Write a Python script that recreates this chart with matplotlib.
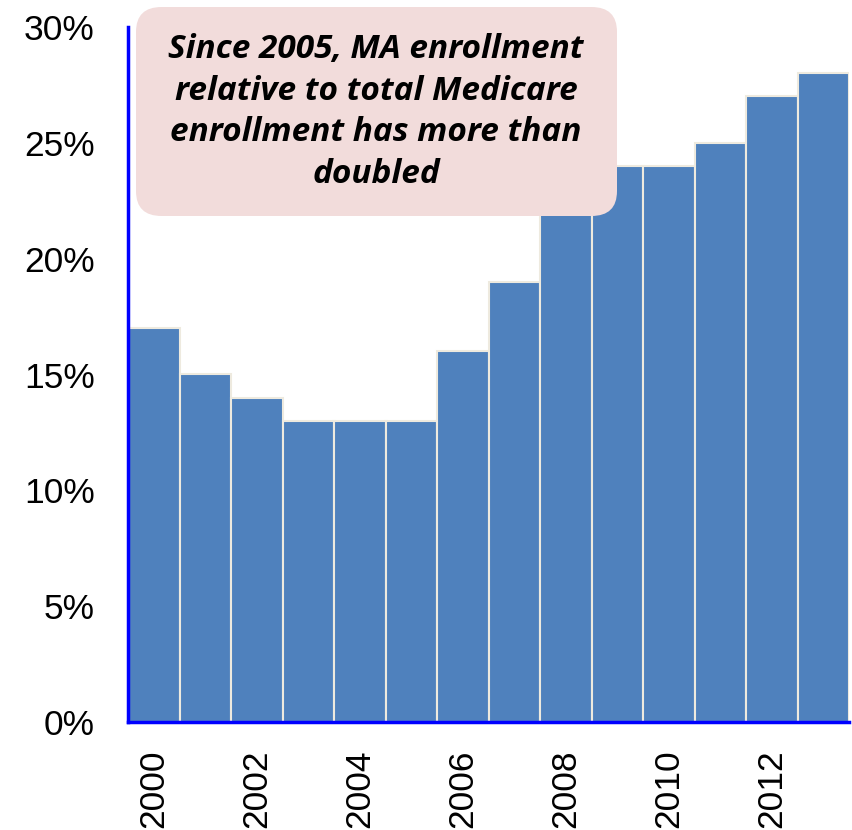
import matplotlib
matplotlib.use('Agg')
import matplotlib.pyplot as plt
from matplotlib.patches import FancyBboxPatch

years = list(range(2000, 2014))
share = [17, 15, 14, 13, 13, 13, 16, 19, 22, 24, 24, 25, 27, 28]
yticks = [0, 5, 10, 15, 20, 25, 30]
note = 'Since 2005, MA enrollment\nrelative to total Medicare\nenrollment has more than\ndoubled'

plt.rcParams['font.family'] = ['Liberation Sans', 'DejaVu Sans']

fig = plt.figure(figsize=(8.52, 8.30), dpi=100)
ax = fig.add_axes([128 / 852, 108 / 830, 721 / 852, 695 / 830])

ax.bar(years, share, width=1.0, color='#4F81BD', edgecolor='#EEEADF', linewidth=1.5)
ax.set_xlim(years[0] - 0.5, years[-1] + 0.5)
ax.set_ylim(0, 30)
ax.set_yticks(yticks)
ax.set_yticklabels([f'{v}%' for v in yticks], fontsize=25.5)
ax.set_xticks(years[::2])
ax.set_xticklabels([str(y) for y in years[::2]], rotation=90, fontsize=25.5, va='top')
ax.tick_params(length=0)
ax.tick_params(axis='y', pad=24)
ax.tick_params(axis='x', pad=20)

for s in ['top', 'right']:
    ax.spines[s].set_visible(False)
for s in ['left', 'bottom']:
    ax.spines[s].set_color('#0000FF')
    ax.spines[s].set_linewidth(2.5)

# annotation box
box = FancyBboxPatch((136 / 852 + 0.02, (830 - 216) / 830 + 0.02), (617 - 136) / 852 - 0.04, (216 - 7) / 830 - 0.04,
                     boxstyle='round,pad=0.02,rounding_size=0.03', transform=fig.transFigure,
                     facecolor='#F2DCDB', edgecolor='none', zorder=5)
fig.patches.append(box)
fig.text(376 / 852, (830 - 112) / 830, note, ha='center', va='center', fontsize=24,
         fontweight='bold', fontstyle='italic', family=['Open Sans', 'DejaVu Sans'],
         linespacing=1.35, zorder=6)

fig.savefig('out.png', dpi=100)
